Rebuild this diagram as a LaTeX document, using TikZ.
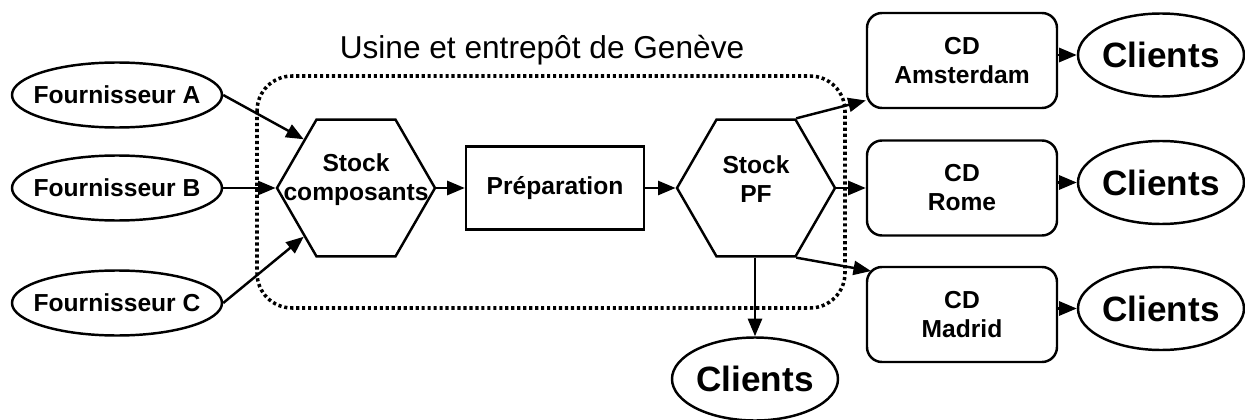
\documentclass[tikz,border=0pt]{standalone}
\usepackage{fontspec}
\setmainfont{Liberation Sans}
\usetikzlibrary{shapes.geometric,arrows.meta,calc}

\tikzset{
  lbl/.style={font=\fontsize{14}{16.5}\selectfont\bfseries, align=center},
  fourn/.style={draw, ellipse, line width=1.4pt, minimum width=4.2cm, minimum height=1.3cm,
    label={[lbl]center:#1}},
  hexa/.style={draw, regular polygon, regular polygon sides=6, minimum size=3.16cm,
    inner sep=0pt, line width=1.4pt, label={[lbl,yshift=5pt]center:#1}},
  boite/.style={draw, rectangle, line width=1.4pt, minimum width=3.56cm, minimum height=1.66cm, lbl},
  cd/.style={boite, rounded corners=0.3cm, minimum width=3.8cm, minimum height=1.9cm},
  client/.style={draw, ellipse, line width=1.4pt, inner sep=0pt, minimum width=3.32cm,
    minimum height=1.66cm, font=\fontsize{20}{24}\selectfont\bfseries},
  fl/.style={-{Triangle[length=10pt,width=8pt]}, line width=1.4pt},
  site/.style={line width=2pt, dash pattern=on 1.8pt off 1.6pt, rounded corners=0.7cm}
}

\begin{document}
\begin{tikzpicture}
\useasboundingbox (0,0) rectangle (24.9,-8.4);

% usine
\draw[site] (5.14,-1.52) rectangle (16.9,-6.16);
\node[font=\fontsize{18}{21}\selectfont] (titre) at (10.84,-1.0) {Usine et entrepôt de Genève};

\node[fourn=Fournisseur A] (fA) at (2.34,-1.9) {};
\node[fourn=Fournisseur B] (fB) at (2.34,-3.76) {};
\node[fourn=Fournisseur C] (fC) at (2.34,-6.06) {};

\node[hexa={Stock\\composants}] (sc) at (7.12,-3.76) {};
\node[boite] (prep) at (11.1,-3.76) {Préparation};
\node[hexa={Stock\\PF}] (spf) at (15.12,-3.76) {};

\draw[fl] (fA.east) -- ($(sc.corner 2)!.3!(sc.corner 3)$);
\draw[fl] (fB) -- (sc);
\draw[fl] (fC.east) -- ($(sc.corner 4)!.3!(sc.corner 3)$);
\draw[fl] (sc) -- (prep);
\draw[fl] (prep) -- (spf);

% centres de distribution
\node[cd] (cdA) at (19.24,-1.21) {CD\\Amsterdam};
\node[cd] (cdR) at (19.24,-3.76) {CD\\Rome};
\node[cd] (cdM) at (19.24,-6.29) {CD\\Madrid};

\draw[fl] (spf.corner 1) -- ([yshift=5pt]cdA.south west);
\draw[fl] (spf) -- (cdR);
\draw[fl] (spf.corner 5) -- ([shift={(3pt,-3pt)}]cdM.north west);

\node[client] (clA) at (23.22,-1.1) {Clients};
\node[client] (clR) at (23.22,-3.65) {Clients};
\node[client] (clM) at (23.22,-6.17) {Clients};
\node[client] (cl) at (15.1,-7.58) {Clients};

\draw[fl] (cdA.east |- clA) -- (clA);
\draw[fl] (cdR.east |- clR) -- (clR);
\draw[fl] (cdM.east |- clM) -- (clM);
\draw[fl] (spf.south -| cl) -- (cl);
\end{tikzpicture}
\end{document}
